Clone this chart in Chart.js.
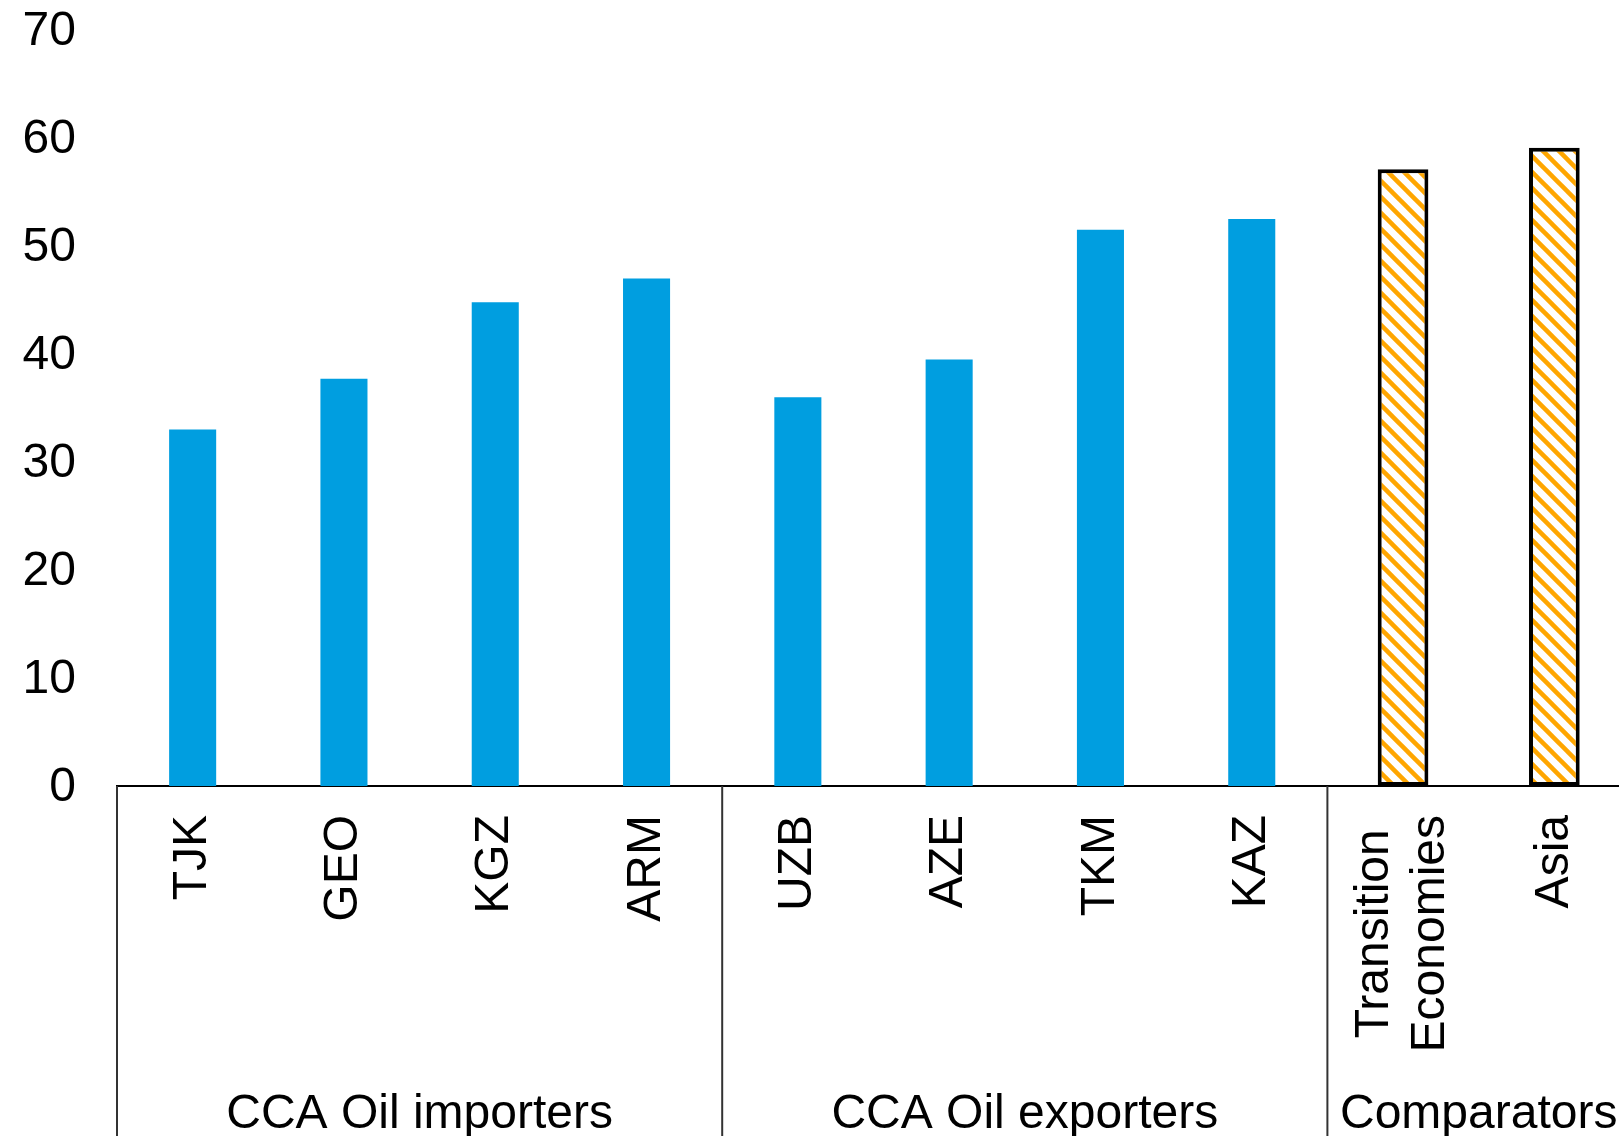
<!DOCTYPE html>
<html>
<head>
<meta charset="utf-8">
<script src="https://cdn.jsdelivr.net/npm/chart.js@4.4.1/dist/chart.umd.min.js"></script>
<style>
    html, body { margin: 0; padding: 0; overflow: hidden; background: #fff; }
    .chart-wrap { position: relative; width: 1630px; height: 1136px; }
</style>
</head>
<body>
<div class="chart-wrap"><canvas id="chart"></canvas></div>
<script>
const categories = ['TJK', 'GEO', 'KGZ', 'ARM', 'UZB', 'AZE', 'TKM', 'KAZ', ['Transition', 'Economies'], 'Asia'];
const ccaValues = [33.0, 37.7, 44.8, 47.0, 36.0, 39.5, 51.5, 52.5, null, null];
const comparatorValues = [null, null, null, null, null, null, null, null, 57.1, 59.1];
const groupNames = ['CCA Oil importers', 'CCA Oil exporters', 'Comparators'];
const groupSizes = [4, 4, 2];
const yMin = 0;
const yMax = 70;
const yStep = 10;

const FONT = '"Liberation Sans", Arial, sans-serif';
Chart.defaults.font.family = FONT;
Chart.defaults.font.size = 48;
Chart.defaults.color = '#000';

// diagonal orange hatch for the comparator bars
function makeHatch() {
    const c = document.createElement('canvas');
    c.width = 16;
    c.height = 16;
    const g = c.getContext('2d');
    g.fillStyle = '#fff';
    g.fillRect(0, 0, 16, 16);
    g.strokeStyle = '#FFA600';
    g.lineWidth = 4.5;
    [-16, 0, 16].forEach(off => {
        g.beginPath();
        g.moveTo(-2, -2 + off);
        g.lineTo(18, 18 + off);
        g.stroke();
    });
    return g.createPattern(c, 'repeat');
}

// category labels, group labels and separators under the axis
const groupAxis = {
    id: 'groupAxis',
    afterDraw(chart) {
        const { ctx, chartArea } = chart;
        const xs = chart.scales.x;
        const step = xs.getPixelForValue(1) - xs.getPixelForValue(0);
        ctx.save();
        ctx.fillStyle = '#000';
        ctx.font = '48px ' + FONT;

        categories.forEach((lab, i) => {
            const lines = Array.isArray(lab) ? lab : [lab];
            const w = Math.max(...lines.map(l => ctx.measureText(l).width));
            const x = xs.getPixelForValue(i);
            const top = chartArea.bottom + 29;
            ctx.save();
            ctx.translate(x, top + w / 2);
            ctx.rotate(-Math.PI / 2);
            ctx.textAlign = 'center';
            ctx.textBaseline = 'middle';
            lines.forEach((l, j) => ctx.fillText(l, 0, (j - (lines.length - 1) / 2) * 56));
            ctx.restore();
        });

        ctx.strokeStyle = '#333';
        ctx.lineWidth = 2;
        let start = 0;
        groupNames.forEach((name, g) => {
            const left = xs.getPixelForValue(start) - step / 2;
            const right = xs.getPixelForValue(start + groupSizes[g] - 1) + step / 2;
            ctx.beginPath();
            ctx.moveTo(left, chartArea.bottom);
            ctx.lineTo(left, chart.height);
            ctx.stroke();
            ctx.textAlign = 'center';
            ctx.textBaseline = 'alphabetic';
            ctx.fillText(name, (left + right) / 2, 1128);
            start += groupSizes[g];
        });
        ctx.restore();
    }
};

new Chart(document.getElementById('chart'), {
    type: 'bar',
    data: {
        labels: categories,
        datasets: [
            {
                label: 'CCA',
                data: ccaValues,
                backgroundColor: '#009EE0',
                borderWidth: 0,
                barPercentage: 0.311,
                categoryPercentage: 1
            },
            {
                label: 'Comparators',
                data: comparatorValues,
                backgroundColor: makeHatch(),
                borderColor: '#000',
                borderWidth: 4,
                borderSkipped: false,
                barPercentage: 0.335,
                categoryPercentage: 1
            }
        ]
    },
    options: {
        responsive: true,
        maintainAspectRatio: false,
        animation: false,
        layout: { padding: { top: 30, right: 0, left: 0, bottom: 0 } },
        plugins: {
            legend: { display: false },
            tooltip: { enabled: false }
        },
        scales: {
            x: {
                stacked: true,
                grid: { display: false, drawTicks: false },
                border: { display: true, color: '#000', width: 2 },
                ticks: { display: false },
                afterFit: s => { s.height = 350; }
            },
            y: {
                stacked: true,
                min: yMin,
                max: yMax,
                grid: { display: false, drawTicks: false },
                border: { display: false },
                ticks: { stepSize: yStep, padding: 41, labelOffset: 2, font: { size: 48 } },
                afterFit: s => {
                    s.width = 117;
                    s.paddingTop = 0;
                    s.paddingBottom = 0;
                }
            }
        }
    },
    plugins: [groupAxis]
});
</script>
</body>
</html>
